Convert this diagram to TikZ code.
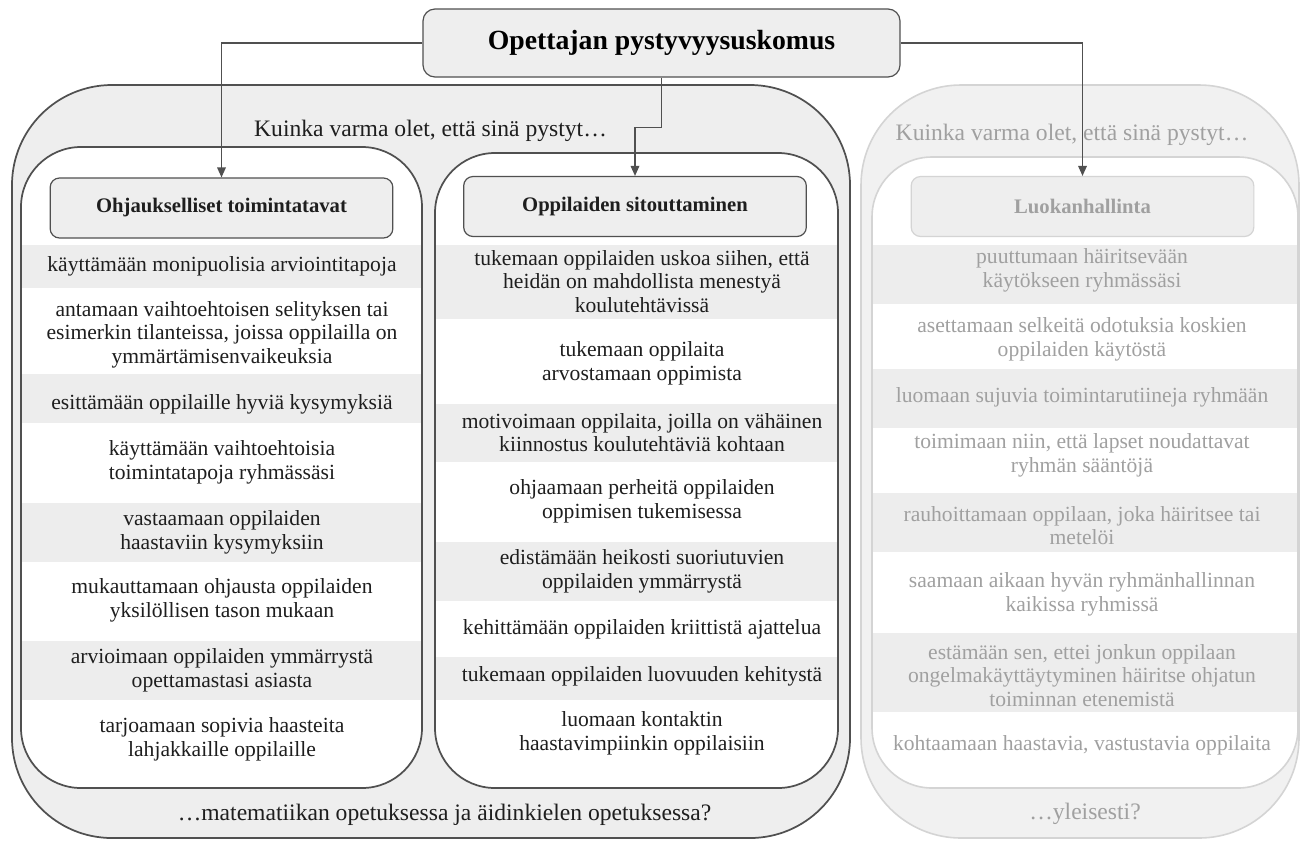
\documentclass[tikz,border=0pt]{standalone}
\usepackage{fontspec}
\setmainfont{Liberation Serif}
\usetikzlibrary{arrows.meta}
\definecolor{dk}{HTML}{505050}
\definecolor{lg}{HTML}{D4D4D4}
\definecolor{cfill}{HTML}{EEEEEE}
\definecolor{rfill}{HTML}{F1F1F1}
\definecolor{rowg}{HTML}{EDEDED}
\definecolor{tx}{HTML}{1E1E1E}
\definecolor{gtx}{HTML}{A0A0A0}
\newcommand\rowfont{\fontsize{16.2pt}{17.6pt}\selectfont}
\newcommand\kfont{\fontsize{17.7pt}{20pt}\selectfont}
\newcommand\hfont{\fontsize{15.5pt}{17pt}\selectfont\bfseries}
\newcommand\tfont{\fontsize{20.8pt}{24pt}\selectfont\bfseries}
\tikzset{
  darkcont/.style={fill=cfill, draw=dk, line width=1.3pt, rounded corners=75pt},
  lightcont/.style={fill=rfill, draw=lg, line width=1.2pt, rounded corners=75pt},
  innerfill/.style={fill=white, rounded corners=45pt},
  innerdark/.style={draw=dk, line width=1.3pt, rounded corners=45pt},
  innerlight/.style={draw=lg, line width=1.2pt, rounded corners=45pt},
  rowbar/.style={fill=rowg},
  hdr/.style={fill=cfill, draw=dk, line width=0.9pt, rounded corners=7pt, inner sep=0pt,
    minimum width=257pt, minimum height=45pt, font=\hfont, text=tx},
  hdrlight/.style={hdr, draw=lg, text=gtx},
  topbox/.style={fill=cfill, draw=dk, line width=0.9pt, rounded corners=9pt, inner sep=0pt,
    minimum width=357.75pt, minimum height=51pt, font=\tfont, text=black},
  row/.style={align=center, font=\rowfont, text=tx, inner sep=0pt},
  rowlight/.style={row, text=gtx},
  ktext/.style={font=\kfont, text=tx, inner sep=0pt},
  ktextlight/.style={ktext, text=gtx},
  arr/.style={draw=dk, line width=0.9pt, -{Triangle[length=7.5pt, width=6.5pt]}},
}
\begin{document}
\begin{tikzpicture}[x=0.75pt,y=-0.75pt]
\useasboundingbox (0,0) rectangle (1301,840);

% containers
\path[darkcont] (12,85) rectangle (850,838);
\path[lightcont] (861,85) rectangle (1299,838);

% inner boxes (fill)
\path[innerfill] (21,147) rectangle (422,788);
\path[innerfill] (435,153) rectangle (838,788);
\path[innerfill] (872,157) rectangle (1298,788);

% row bars
\path[rowbar] (22,245) rectangle (421,288);
\path[rowbar] (22,374) rectangle (421,423);
\path[rowbar] (22,503) rectangle (421,562);
\path[rowbar] (22,641) rectangle (421,700);

\path[rowbar] (436,245) rectangle (837,319);
\path[rowbar] (436,404) rectangle (837,462);
\path[rowbar] (436,542) rectangle (837,601);
\path[rowbar] (436,657) rectangle (837,700);

\path[rowbar] (873,245) rectangle (1297,304);
\path[rowbar] (873,369) rectangle (1297,428);
\path[rowbar] (873,493) rectangle (1297,552);
\path[rowbar] (873,633) rectangle (1297,712);

% inner box borders
\path[innerdark] (21,147) rectangle (422,788);
\path[innerdark] (435,153) rectangle (838,788);
\path[innerlight] (872,157) rectangle (1298,788);

% top and header nodes
\node[topbox] (top) at (661.5,43) {Opettajan pystyvyysuskomus};
\node[hdr] (h1) at (221.5,208) {Ohjaukselliset toimintatavat};
\node[hdr] (h2) at (635,206.5) {Oppilaiden sitouttaminen};
\node[hdrlight] (h3) at (1082.5,206.5) {Luokanhallinta};

% question texts
\node[ktext] (k1) at (430.5,131) {Kuinka varma olet, että sinä pystyt…};
\node[ktextlight] (k2) at (1072,135) {Kuinka varma olet, että sinä pystyt…};
\node[ktext] (b1) at (444.5,815) {…matematiikan opetuksessa ja äidinkielen opetuksessa?};
\node[ktextlight] (b2) at (1085,814) {…yleisesti?};

% arrows
\draw[arr] (top.west) -| (h1.north);
\draw[arr] (top.south) -- ++(0,50) -| (h2.north);
\draw[arr] (top.east) -| (h3.north);

% left column
\node[row] (l1) at (222,266.5) {käyttämään monipuolisia arviointitapoja};
\node[row] (l2) at (222,334.5) {antamaan vaihtoehtoisen selityksen tai\\esimerkin tilanteissa, joissa oppilailla on\\ymmärtämisenvaikeuksia};
\node[row] (l3) at (222,404.5) {esittämään oppilaille hyviä kysymyksiä};
\node[row] (l4) at (222,462.5) {käyttämään vaihtoehtoisia\\toimintatapoja ryhmässäsi};
\node[row] (l5) at (222,532.5) {vastaamaan oppilaiden\\haastaviin kysymyksiin};
\node[row] (l6) at (222,600.5) {mukauttamaan ohjausta oppilaiden\\yksilöllisen tason mukaan};
\node[row] (l7) at (222,670.5) {arvioimaan oppilaiden ymmärrystä\\opettamastasi asiasta};
\node[row] (l8) at (222,739.5) {tarjoamaan sopivia haasteita\\lahjakkaille oppilaille};

% middle column
\node[row] (m1) at (642,281.5) {tukemaan oppilaiden uskoa siihen, että\\heidän on mahdollista menestyä\\koulutehtävissä};
\node[row] (m2) at (642,363.5) {tukemaan oppilaita\\arvostamaan oppimista};
\node[row] (m3) at (642,432.5) {motivoimaan oppilaita, joilla on vähäinen\\kiinnostus koulutehtäviä kohtaan};
\node[row] (m4) at (642,501.5) {ohjaamaan perheitä oppilaiden\\oppimisen tukemisessa};
\node[row] (m5) at (642,571.5) {edistämään heikosti suoriutuvien\\oppilaiden ymmärrystä};
\node[row] (m6) at (642,629.5) {kehittämään oppilaiden kriittistä ajattelua};
\node[row] (m7) at (642,676.5) {tukemaan oppilaiden luovuuden kehitystä};
\node[row] (m8) at (642,733.5) {luomaan kontaktin\\haastavimpiinkin oppilaisiin};

% right column
\node[rowlight] (r1) at (1082,270.5) {puuttumaan häiritsevään\\käytökseen ryhmässäsi};
\node[rowlight] (r2) at (1082,339.5) {asettamaan selkeitä odotuksia koskien\\oppilaiden käytöstä};
\node[rowlight] (r3) at (1082,397.5) {luomaan sujuvia toimintarutiineja ryhmään};
\node[rowlight] (r4) at (1082,455.5) {toimimaan niin, että lapset noudattavat\\ryhmän sääntöjä};
\node[rowlight] (r5) at (1082,525.5) {rauhoittamaan oppilaan, joka häiritsee tai\\metelöi};
\node[rowlight] (r6) at (1082,594.5) {saamaan aikaan hyvän ryhmänhallinnan\\kaikissa ryhmissä};
\node[rowlight] (r7) at (1082,675.5) {estämään sen, ettei jonkun oppilaan\\ongelmakäyttäytyminen häiritse ohjatun\\toiminnan etenemistä};
\node[rowlight] (r8) at (1082,745.5) {kohtaamaan haastavia, vastustavia oppilaita};
\end{tikzpicture}
\end{document}
